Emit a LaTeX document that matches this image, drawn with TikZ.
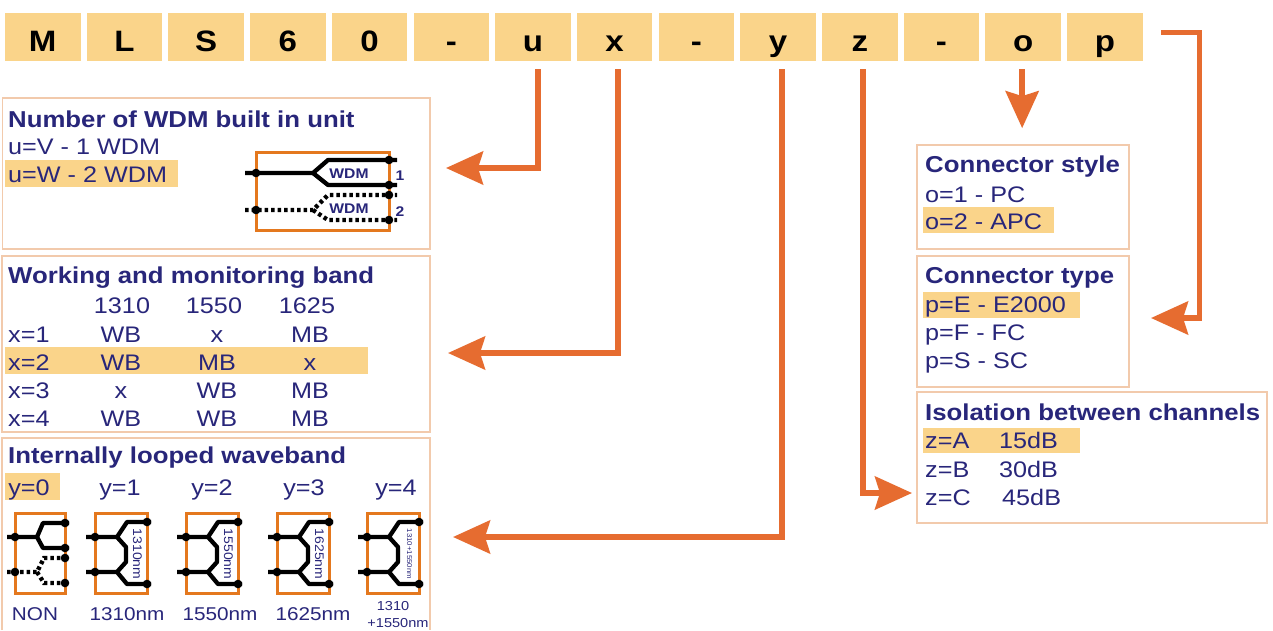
\documentclass[tikz,border=0pt]{standalone}
\usepackage{fontspec}
\setmainfont{Liberation Sans}[FakeStretch=1.12]
\usetikzlibrary{arrows.meta}
\definecolor{barfill}{RGB}{250,212,138}
\definecolor{navy}{RGB}{40,38,122}
\definecolor{arrc}{RGB}{230,108,48}
\definecolor{panelc}{RGB}{242,202,172}
\definecolor{boxo}{RGB}{228,120,30}
\tikzset{
 topbox/.style={fill=barfill, minimum width=75.5pt, minimum height=48.3pt, inner sep=0pt},
 toplet/.style={anchor=base, inner sep=0pt, font=\bfseries\fontsize{29.5}{29.5}\selectfont},
 panel/.style={draw=panelc, line width=1.2pt},
 hl/.style={fill=barfill},
 ttl/.style={anchor=base west, inner sep=0pt, text=navy, font=\bfseries\fontsize{23}{23}\selectfont},
 txt/.style={anchor=base west, inner sep=0pt, text=navy, font=\fontsize{22.5}{22.5}\selectfont},
 ctxt/.style={txt, anchor=base},
 btxt/.style={anchor=base, inner sep=0pt, text=navy, font=\fontsize{18.5}{18.5}\selectfont},
 stxt/.style={anchor=base, inner sep=0pt, text=navy, font=\fontsize{13}{13}\selectfont},
 rtxt/.style={anchor=center, inner sep=0pt, text=navy, rotate=-90, font=\fontsize{12.5}{12.5}\selectfont},
 wtxt/.style={anchor=center, inner sep=0pt, text=navy, font=\bfseries\fontsize{14}{14}\selectfont},
 arr/.style={draw=arrc, line width=5.5pt, -{Stealth[length=37pt,width=33pt,inset=5pt]}},
 fib/.style={draw=black, line width=4.3pt, line join=round},
 fibd/.style={draw=black, line width=4.3pt, dash pattern=on 3.5pt off 3pt},
 mbox/.style={draw=boxo, line width=3pt},
}
\newcommand\fdot[1]{\fill (#1) circle (4.3pt);}
\newcommand\loopbox[4]{%
\begin{scope}[shift={(#1,#2)}]
 \draw[mbox] (0,0) rectangle (52,80);
 \draw[fib] (-9,24) -- (22,24) -- (32,9) -- (56,9);
 \draw[fib] (22,24) -- (31,34) -- (31,49) -- (22,59);
 \draw[fib] (-9,59) -- (22,59) -- (32,71) -- (56,71);
 \fdot{0,24}\fdot{0,59}\fdot{52,9}\fdot{52,71}
 \node[rtxt] (#3) at (42.5,41) {#4};
\end{scope}}
\begin{document}
\begin{tikzpicture}[x=1pt,y=-1pt]
\useasboundingbox (0,0) rectangle (1273,630);
\fill[white] (0,0) rectangle (1273,630);

% top code bar
\foreach \L [count=\i from 0] in {M,L,S,6,0,-,u,x,-,y,z,-,o,p}{
  \node[topbox] (b\i) at ({42.75+81.7*\i},36.8) {};
  \node[toplet] (l\i) at ({42.75+81.7*\i},51) {\L};
}

% panel 1
\draw[panel] (2.7,98) rectangle (430,249);
\fill[hl] (5,160) rectangle (178,187);
\node[ttl] (t1) at (8,127) {Number of WDM built in unit};
\node[txt] (u1) at (8,154) {u=V - 1 WDM};
\node[txt] (u2) at (8,182) {u=W - 2 WDM};
\draw[mbox] (256,152) rectangle (389,230);
\draw[fib] (245,173) -- (313,173) -- (328,160) -- (397,160);
\draw[fib] (313,173) -- (328,185) -- (397,185);
\draw[fibd] (245,210) -- (313,210) -- (328,195) -- (397,195);
\draw[fibd] (313,210) -- (328,220) -- (397,220);
\fdot{256,173}\fdot{389,160}\fdot{389,185}\fdot{256,210}\fdot{389,195}\fdot{389,220}
\node[wtxt] (wd1) at (349,174) {WDM};
\node[wtxt] (wd2) at (349,209) {WDM};
\node[wtxt] (n1) at (400,176) {1};
\node[wtxt] (n2) at (400,212) {2};

% panel 2
\draw[panel] (2,256) rectangle (430,432);
\fill[hl] (5,347) rectangle (368,374);
\node[ttl] (t2) at (8,283) {Working and monitoring band};
\node[ctxt] (h1) at (122,313) {1310};
\node[ctxt] (h2) at (214,313) {1550};
\node[ctxt] (h3) at (307,313) {1625};
\foreach \n/\a/\b/\c/\yy in {1/WB/x/MB/342, 2/WB/MB/x/370, 3/x/WB/MB/398, 4/WB/WB/MB/426}{
 \node[txt] (rx\n) at (8,\yy) {x=\n};
 \node[ctxt] (ca\n) at (121,\yy) {\a};
 \node[ctxt] (cb\n) at (217,\yy) {\b};
 \node[ctxt] (cc\n) at (310,\yy) {\c};
}

% panel 3
\draw[panel] (2,630) -- (2,438) -- (430,438) -- (430,630);
\fill[hl] (5,473) rectangle (60,500);
\node[ttl] (t3) at (8,463) {Internally looped waveband};
\foreach \k/\xx in {0/29,1/120,2/212,3/304,4/396}{
 \node[ctxt] (yl\k) at (\xx,495) {y=\k};
}
\begin{scope}[shift={(15,513)}]
 \draw[mbox] (0,0) rectangle (50,80);
 \draw[fib] (-8,24) -- (22,24) -- (28,10) -- (54,10);
 \draw[fib] (22,24) -- (28,35) -- (54,35);
 \draw[fibd] (-8,59) -- (22,59) -- (29,45) -- (54,45);
 \draw[fibd] (22,59) -- (29,70) -- (54,70);
 \fdot{0,24}\fdot{0,59}\fdot{50,10}\fdot{50,35}\fdot{50,45}\fdot{50,70}
\end{scope}
\loopbox{95}{513}{lb1}{1310nm}
\loopbox{186}{513}{lb2}{1550nm}
\loopbox{277}{513}{lb3}{1625nm}
\loopbox{367}{513}{lb4}{{\fontsize{7}{7}\selectfont 1310+1550nm}}
\node[btxt] (bl0) at (35,620) {NON};
\node[btxt] (bl1) at (127,620) {1310nm};
\node[btxt] (bl2) at (220,620) {1550nm};
\node[btxt] (bl3) at (313,620) {1625nm};
\node[stxt] (bl4a) at (393,610) {1310};
\node[stxt] (bl4b) at (398,627) {+1550nm};

% right panels
\draw[panel] (917,145) rectangle (1129,249);
\fill[hl] (923,207) rectangle (1054,233);
\node[ttl] (t4) at (925,172) {Connector style};
\node[txt] (o1) at (925,202) {o=1 - PC};
\node[txt] (o2) at (925,229) {o=2 - APC};

\draw[panel] (917,256) rectangle (1129,387);
\fill[hl] (923,292) rectangle (1080,318);
\node[ttl] (t5) at (925,283) {Connector type};
\node[txt] (pE) at (925,312) {p=E - E2000};
\node[txt] (pF) at (925,340) {p=F - FC};
\node[txt] (pS) at (925,368) {p=S - SC};

\draw[panel] (917,392) rectangle (1267,523);
\fill[hl] (923,428) rectangle (1080,453);
\node[ttl] (t6) at (925,420) {Isolation between channels};
\node[txt] (zA) at (925,448) {z=A};
\node[txt] (zAv) at (999,448) {15dB};
\node[txt] (zB) at (925,477) {z=B};
\node[txt] (zBv) at (999,477) {30dB};
\node[txt] (zC) at (925,505) {z=C};
\node[txt] (zCv) at (1002,505) {45dB};

% connectors
\coordinate (ut) at (446,168);
\coordinate (xt) at (448,353);
\coordinate (yt) at (453,537);
\coordinate (zt) at (912,493);
\coordinate (ot) at ([xshift=-1pt,yshift=-67pt]b12.south);
\coordinate (pt) at (1151,318);
\draw[arr] ([xshift=5pt,yshift=-8pt]b6.south) |- (ut);
\draw[arr] ([xshift=3.5pt,yshift=-8pt]b7.south) |- (xt);
\draw[arr] ([xshift=4pt,yshift=-8pt]b9.south) |- (yt);
\draw[arr] ([xshift=3pt,yshift=-8pt]b10.south) |- (zt);
\draw[arr] ([xshift=-1pt,yshift=-8pt]b12.south) -- (ot);
\draw[arr] ([xshift=18.5pt,yshift=4.5pt]b13.east) -- ++(38,0) |- (pt);
\end{tikzpicture}
\end{document}
